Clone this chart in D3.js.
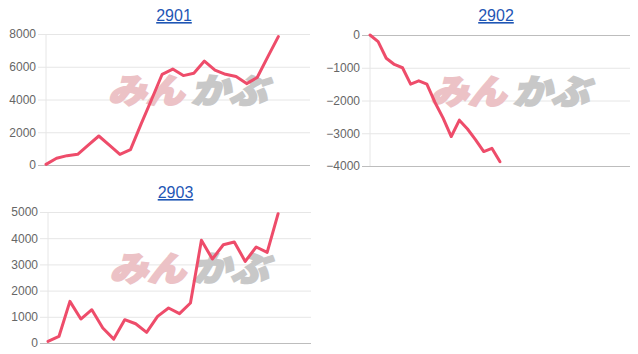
<!DOCTYPE html>
<html>
<head>
<meta charset="utf-8">
<script src="https://cdn.jsdelivr.net/npm/d3@7"></script>
<style>
  html, body { margin: 0; padding: 0; background: #fff; }
  svg { display: block; }
</style>
</head>
<body>
<svg id="chart" width="638" height="354"></svg>
<script>
// data
const codes = ["2901", "2902", "2903"];
const slotCounts = [26, 33, 25];
const values2901 = [40, 410, 570, 650, 1220, 1770, 1220, 650, 935, 2500, 4000, 5540,
  5860, 5460, 5600, 6350, 5800, 5540, 5400, 4970, 5340, 6600, 7840];
const values2902 = [0, -200, -710, -900, -1000, -1500, -1400, -1500, -2060, -2540,
  -3100, -2600, -2870, -3200, -3560, -3460, -3870];
const values2903 = [60, 250, 1590, 915, 1270, 570, 150, 890, 735, 405, 1015, 1335,
  1120, 1525, 3920, 3205, 3750, 3855, 3115, 3665, 3460, 4935];
const ticks2901 = [0, 2000, 4000, 6000, 8000];
const ticks2902 = [-4000, -3000, -2000, -1000, 0];
const ticks2903 = [0, 1000, 2000, 3000, 4000, 5000];

const svg = d3.select("#chart");
const lineColor = "rgb(238,76,106)";
const font = "'Liberation Sans', Arial, sans-serif";

// plot boxes
const panels = [
  { code: codes[0], values: values2901, ticks: ticks2901, n: slotCounts[0], left: 46, right: 310, top: 34, bottom: 165, titleY: 21 },
  { code: codes[1], values: values2902, ticks: ticks2902, n: slotCounts[1], left: 370, right: 630, top: 35, bottom: 166, titleY: 21 },
  { code: codes[2], values: values2903, ticks: ticks2903, n: slotCounts[2], left: 48, right: 311, top: 212, bottom: 343, titleY: 198 },
];

panels.forEach((p) => {
  const g = svg.append("g");
  const x = d3
    .scalePoint()
    .domain(d3.range(p.n))
    .range([p.left, p.right]);
  const y = d3
    .scaleLinear()
    .domain(d3.extent(p.ticks))
    .range([p.bottom, p.top]);

  // grid + y labels
  const yAxis = (sel) =>
    sel
      .attr("transform", `translate(${p.left},0)`)
      .call(
        d3.axisLeft(y)
          .tickValues(p.ticks)
          .tickSize(-(p.right - p.left))
          .tickSizeOuter(0)
          .tickPadding(10)
          .tickFormat(d3.format("d"))
      )
      .call((s) => s.select(".domain").remove())
      .call((s) =>
        s.selectAll(".tick line")
          .attr("x1", -8)
          .attr("stroke", (d) => (d === 0 || d === d3.min(p.ticks) ? "#bdbdbd" : "#e6e6e6"))
      )
      .call((s) =>
        s.selectAll(".tick text")
          .attr("fill", "#666")
          .style("font-family", font)
          .style("font-size", "12px")
      );
  g.append("g").attr("class", "y-axis").call(yAxis);

  // left border
  g.append("line")
    .attr("x1", p.left).attr("x2", p.left)
    .attr("y1", p.top).attr("y2", p.bottom)
    .attr("stroke", "#e6e6e6");

  // watermark
  const cx = (p.left + p.right) / 2 + 10;
  const cy = (p.top + p.bottom) / 2 - 10;
  const wm = g.append("g").style("font-family", "'Noto Sans CJK JP', sans-serif")
    .style("font-weight", 900).style("font-style", "italic").style("font-size", "34px");
  wm.append("text")
    .attr("x", cx - 80).attr("y", cy + 13)
    .attr("textLength", 76).attr("lengthAdjust", "spacingAndGlyphs")
    .attr("fill", "#ecc2c6").attr("stroke", "#ecc2c6").attr("stroke-width", 2)
    .text("みん");
  wm.append("text")
    .attr("x", cx + 3).attr("y", cy + 13)
    .attr("textLength", 76).attr("lengthAdjust", "spacingAndGlyphs")
    .attr("fill", "#c8c8c8").attr("stroke", "#c8c8c8").attr("stroke-width", 2)
    .text("かぶ");

  // line
  const line = d3.line()
    .x((d, i) => x(i))
    .y((d) => y(d));
  g.append("path")
    .datum(p.values)
    .attr("d", line)
    .attr("fill", "none")
    .attr("stroke", lineColor)
    .attr("stroke-width", 3)
    .attr("stroke-linejoin", "round")
    .attr("stroke-linecap", "round");

  // title
  g.append("text")
    .attr("x", (p.left + p.right) / 2 - 4)
    .attr("y", p.titleY)
    .attr("text-anchor", "middle")
    .attr("fill", "#1f56b5")
    .style("font-family", font)
    .style("font-size", "16px")
    .style("text-decoration", "underline")
    .text(p.code);
});
</script>
</body>
</html>
